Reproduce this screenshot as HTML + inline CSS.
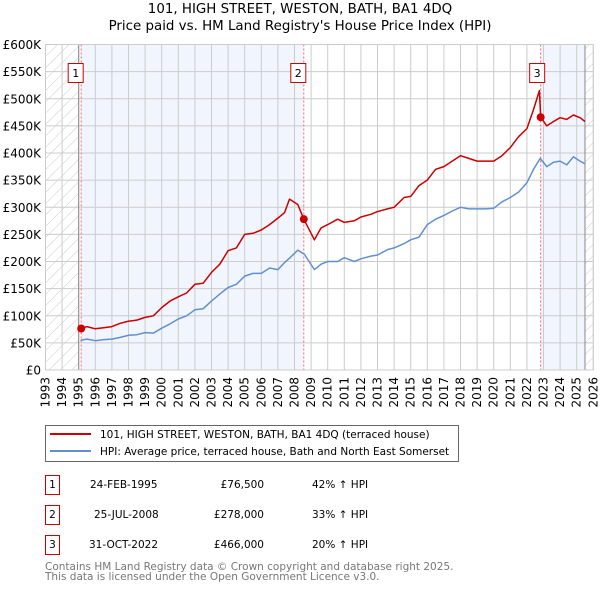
<!DOCTYPE html>
<html><head><meta charset="utf-8"><style>
body{margin:0;background:#fff;width:600px;height:590px;overflow:hidden;font-family:"DejaVu Sans","Liberation Sans",sans-serif;}
svg text{font-family:"DejaVu Sans","Liberation Sans",sans-serif;}
</style></head><body>
<svg id="chart" width="600" height="590" xmlns="http://www.w3.org/2000/svg">
<defs><pattern id="hatch" patternUnits="userSpaceOnUse" width="8" height="8" patternTransform="rotate(45)"><line x1="0" y1="0" x2="0" y2="8" stroke="#ccc" stroke-width="1"/></pattern></defs>
<text x="300" y="13" text-anchor="middle" font-size="13.4">101, HIGH STREET, WESTON, BATH, BA1 4DQ</text>
<text x="300" y="30" text-anchor="middle" font-size="13.4">Price paid vs. HM Land Registry's House Price Index (HPI)</text>
<g id="plot"></g>
<g>
<rect x="45.5" y="425.5" width="413" height="36" fill="#fff" stroke="#666"/>
<line x1="50" y1="434" x2="91" y2="434" stroke="#cc0000" stroke-width="2"/>
<text x="100" y="438" font-size="10.5">101, HIGH STREET, WESTON, BATH, BA1 4DQ (terraced house)</text>
<line x1="50" y1="451" x2="91" y2="451" stroke="#6090d0" stroke-width="2"/>
<text x="100" y="455" font-size="10.5">HPI: Average price, terraced house, Bath and North East Somerset</text>
</g>
<g font-size="10.5">
<g><rect x="45.5" y="475.5" width="14" height="19" fill="#fff" stroke="#cc0000"/><text x="52.5" y="488" text-anchor="middle">1</text><text x="90" y="488">24-FEB-1995</text><text x="264" y="488" text-anchor="end">£76,500</text><text x="312" y="488">42% ↑ HPI</text></g>
<g><rect x="45.5" y="505.5" width="14" height="19" fill="#fff" stroke="#cc0000"/><text x="52.5" y="518" text-anchor="middle">2</text><text x="94" y="518">25-JUL-2008</text><text x="264" y="518" text-anchor="end">£278,000</text><text x="312" y="518">33% ↑ HPI</text></g>
<g><rect x="45.5" y="535.5" width="14" height="19" fill="#fff" stroke="#cc0000"/><text x="52.5" y="548" text-anchor="middle">3</text><text x="89" y="548">31-OCT-2022</text><text x="264" y="548" text-anchor="end">£466,000</text><text x="312" y="548">20% ↑ HPI</text></g>
</g>
<text x="45" y="570" font-size="10.5" fill="#777">Contains HM Land Registry data © Crown copyright and database right 2025.</text>
<text x="45" y="580" font-size="10.5" fill="#777">This data is licensed under the Open Government Licence v3.0.</text>
</svg>
<script>
const hpiYears=[1995.1,1995.5,1996,1996.5,1997,1997.5,1998,1998.5,1999,1999.5,2000,2000.5,2001,2001.5,2002,2002.5,2003,2003.5,2004,2004.5,2005,2005.5,2006,2006.5,2007,2007.4,2007.7,2008.2,2008.6,2009.2,2009.6,2010,2010.6,2011,2011.6,2012,2012.6,2013,2013.6,2014,2014.6,2015,2015.5,2016,2016.5,2017,2017.5,2018,2018.5,2019,2019.5,2020,2020.5,2021,2021.5,2022,2022.4,2022.8,2023.2,2023.6,2024,2024.4,2024.8,2025.2,2025.5];
const hpiValues=[55,57,54,56,57,60,64,65,69,68,77,85,94,100,111,113,127,140,152,158,173,178,178,188,185,198,206,221,213,185,195,200,200,207,200,205,210,212,222,225,233,240,245,268,278,285,293,300,297,297,297,298,310,318,328,345,370,390,375,383,385,378,393,385,380];
const redYears=[1995.15,1995.5,1996,1996.5,1997,1997.5,1998,1998.5,1999,1999.5,2000,2000.5,2001,2001.5,2002,2002.5,2003,2003.5,2004,2004.5,2005,2005.5,2006,2006.5,2007,2007.4,2007.7,2008.2,2008.56,2009.2,2009.6,2010,2010.6,2011,2011.6,2012,2012.6,2013,2013.6,2014,2014.6,2015,2015.5,2016,2016.5,2017,2017.5,2018,2018.5,2019,2019.5,2020,2020.5,2021,2021.5,2022,2022.4,2022.75,2022.83,2023.2,2023.6,2024,2024.4,2024.8,2025.2,2025.5];
const redValues=[77,80,76,78,80,86,90,92,97,100,115,127,135,142,158,160,180,195,220,225,250,252,258,268,280,290,315,305,278,240,262,268,278,272,275,282,287,292,297,300,318,320,340,350,370,375,385,395,390,385,385,385,395,410,430,445,480,515,466,450,458,465,462,470,465,458];
const salesYears=[1995.15,2008.56,2022.83];
const salesValues=[76.5,278,466];
const yTicks=[0,50,100,150,200,250,300,350,400,450,500,550,600];
const NS="http://www.w3.org/2000/svg";
const X0=45.5,Y0=370,xPer=16.6,yPer=(370-44.5)/600;
const xs=y=>X0+(y-1993)*xPer, ys=v=>Y0-v*yPer;
const g=document.getElementById('plot');
function mk(t,a,p){const e=document.createElementNS(NS,t);for(const k in a)e.setAttribute(k,a[k]);(p||g).appendChild(e);return e;}
let e;
e=mk('rect',{x:X0,y:ys(600),width:xs(2026)-X0,height:ys(0)-ys(600),fill:'#fff'});


e=mk('rect',{x:xs(1995.15),y:ys(600),width:xs(2008.56)-xs(1995.15),height:ys(0)-ys(600),fill:'#eef3fc',opacity:0.8});


e=mk('rect',{x:xs(2022.83),y:ys(600),width:xs(2025.5)-xs(2022.83),height:ys(0)-ys(600),fill:'#eef3fc',opacity:0.8});


e=mk('rect',{x:X0,y:ys(600),width:xs(1995)-X0,height:ys(0)-ys(600),fill:'url(#hatch)'});


e=mk('rect',{x:xs(2025.5),y:ys(600),width:xs(2026)-xs(2025.5),height:ys(0)-ys(600),fill:'url(#hatch)'});


for(let yr=1993;yr<=2026;yr++){
 e=mk('line',{x1:xs(yr),x2:xs(yr),y1:ys(600),y2:ys(0),stroke:'#ccc','stroke-width':1});
 
 
 const tx=xs(yr)+4;
 e=mk('text',{x:0,y:0,'font-size':12,'text-anchor':'end',transform:`translate(${tx},377) rotate(-90)`});
 e.textContent=yr;
 
 
}
yTicks.forEach(v=>{
 e=mk('line',{x1:X0,x2:xs(2026),y1:ys(v),y2:ys(v),stroke:'#ccc','stroke-width':1});
 
 
 e=mk('text',{x:41,y:ys(v)+4.5,'font-size':12,'text-anchor':'end'});
 e.textContent=v===0?'£0':'£'+v+'K';
 
 
});
[1995,2025.5].forEach(yr=>{
 e=mk('line',{x1:xs(yr),x2:xs(yr),y1:ys(600),y2:ys(0),stroke:'#888','stroke-width':1});
 
 
});
salesYears.forEach((yr,i)=>{
 e=mk('line',{x1:xs(yr),x2:xs(yr),y1:ys(600),y2:ys(0),stroke:'#ff6666','stroke-width':1,'stroke-dasharray':'2,2'});
 
 
});
function path(xa,va,col,name){
 const d=xa.map((x,i)=>(i?'L':'M')+xs(x).toFixed(1)+','+ys(va[i]).toFixed(1)).join('');
 const p=mk('path',{d:d,fill:'none',stroke:col,'stroke-width':1.5,'stroke-linejoin':'round'});
 
 
}
path(hpiYears,hpiValues,'#6090d0','hpi-line');
path(redYears,redValues,'#cc0000','price-paid-line');
salesYears.forEach((yr,i)=>{
 e=mk('circle',{cx:xs(yr),cy:ys(salesValues[i]),r:4,fill:'#cc0000'});
 
 
 const bx=xs(yr)-8-(i===2?3:5);
 e=mk('rect',{x:bx,y:63.5,width:15,height:19,fill:'#fff',stroke:'#cc0000'});
 
 
 e=mk('text',{x:bx+7.5,y:77,'font-size':11,'text-anchor':'middle'});
 e.textContent=String(i+1);
 
 
});
e=mk('rect',{x:X0,y:ys(600),width:xs(2026)-X0,height:ys(0)-ys(600),fill:'none',stroke:'#ccc'});


</script>
</body></html>
